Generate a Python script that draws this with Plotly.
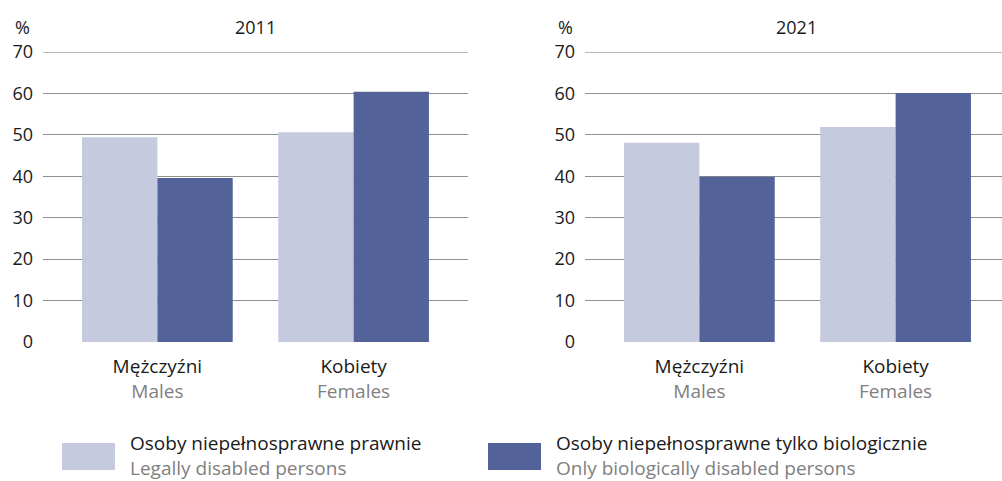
import plotly.graph_objects as go

# Data
years = ["2011", "2021"]
categories_pl = ["Mężczyźni", "Kobiety"]
categories_en = ["Males", "Females"]
legal_2011 = [49.4, 50.6]
bio_2011 = [39.6, 60.4]
legal_2021 = [48.1, 51.9]
bio_2021 = [39.9, 60.1]
series_pl = ["Osoby niepełnosprawne prawnie", "Osoby niepełnosprawne tylko biologicznie"]
series_en = ["Legally disabled persons", "Only biologically disabled persons"]
y_ticks = [0, 10, 20, 30, 40, 50, 60, 70]

LIGHT = "#c5cadf"
DARK = "#536399"
TXT = "#1a1a1a"
GREY_TXT = "#808080"
FONT = "Open Sans"

W, H = 1002, 481
ML, MR, MT, MB = 43, 0, 52, 139
PW = W - ML - MR
PH = H - MT - MB


def px_x(px):
    return (px - ML) / PW


def px_y(py):
    return (H - MB - py) / PH


fig = go.Figure()
x_idx = [0, 1]
panels = [(legal_2011, bio_2011, "x", "y"), (legal_2021, bio_2021, "x2", "y2")]
for legal, bio, xa, ya in panels:
    fig.add_trace(go.Bar(x=x_idx, y=legal, marker=dict(color=LIGHT, line=dict(width=0)),
                         name=series_pl[0], xaxis=xa, yaxis=ya, showlegend=False))
    fig.add_trace(go.Bar(x=x_idx, y=bio, marker=dict(color=DARK, line=dict(width=0)),
                         name=series_pl[1], xaxis=xa, yaxis=ya, showlegend=False))

ticktext = [f"{pl}<br><span style='color:{GREY_TXT}'>{en}</span>"
            for pl, en in zip(categories_pl, categories_en)]

xcommon = dict(tickmode="array", tickvals=x_idx, ticktext=ticktext, showgrid=False,
               zeroline=False, showline=False, ticks="", ticklabelstandoff=11,
               tickfont=dict(family=FONT, size=19, color=TXT))
ycommon = dict(range=[0, 70], tickmode="array", tickvals=y_ticks, showgrid=True,
               gridcolor="#8f8f8f", gridwidth=1, zeroline=False, showline=False,
               ticks="", ticklabelstandoff=9,
               tickfont=dict(family=FONT, size=18, color=TXT))

left_dom = [0, px_x(468)]
right_dom = [px_x(585), 1]
unit = 425 / 2.166
right_span = (1002 - 585) / unit

fig.update_layout(
    width=W, height=H,
    margin=dict(l=ML, r=MR, t=MT, b=MB),
    paper_bgcolor="white", plot_bgcolor="white",
    barmode="group", bargap=0.232, bargroupgap=0,
    xaxis=dict(domain=left_dom, range=[-0.583, 1.583], anchor="y", **xcommon),
    yaxis=dict(domain=[0, 1], anchor="x", **ycommon),
    xaxis2=dict(domain=right_dom, range=[-0.583, -0.583 + right_span], anchor="y2", **xcommon),
    yaxis2=dict(domain=[0, 1], anchor="x2", **ycommon),
)

# lighter top gridline at the axis maximum
for xref, yref in [("x domain", "y"), ("x2 domain", "y2")]:
    fig.add_shape(type="line", xref=xref, yref=yref, x0=0, x1=1, y0=y_ticks[-1], y1=y_ticks[-1],
                  line=dict(color="#b8b8b8", width=2))

# panel headers
for yr, cx, pc in [(years[0], 255.5, 22), (years[1], 796.5, 565)]:
    fig.add_annotation(text=yr, xref="paper", yref="paper", x=px_x(cx), y=px_y(27),
                       showarrow=False, xanchor="center", yanchor="middle",
                       font=dict(family=FONT, size=18, color=TXT))
    fig.add_annotation(text="%", xref="paper", yref="paper", x=px_x(pc), y=px_y(27),
                       showarrow=False, xanchor="center", yanchor="middle",
                       font=dict(family=FONT, size=18, color=TXT))

# legend drawn as swatches with two-line bilingual labels
for (sx0, sx1, tx), col, pl, en in zip([(62, 115, 128), (488, 541, 554)], [LIGHT, DARK],
                                       series_pl, series_en):
    fig.add_shape(type="rect", xref="paper", yref="paper",
                  x0=px_x(sx0), x1=px_x(sx1), y0=px_y(470), y1=px_y(443),
                  fillcolor=col, line=dict(width=0))
    fig.add_annotation(text=f"{pl}<br><span style='color:{GREY_TXT}'>{en}</span>",
                       xref="paper", yref="paper", x=px_x(tx), y=px_y(455),
                       showarrow=False, xanchor="left", yanchor="middle", align="left",
                       font=dict(family=FONT, size=19, color=TXT))

fig.write_html("out.html")
